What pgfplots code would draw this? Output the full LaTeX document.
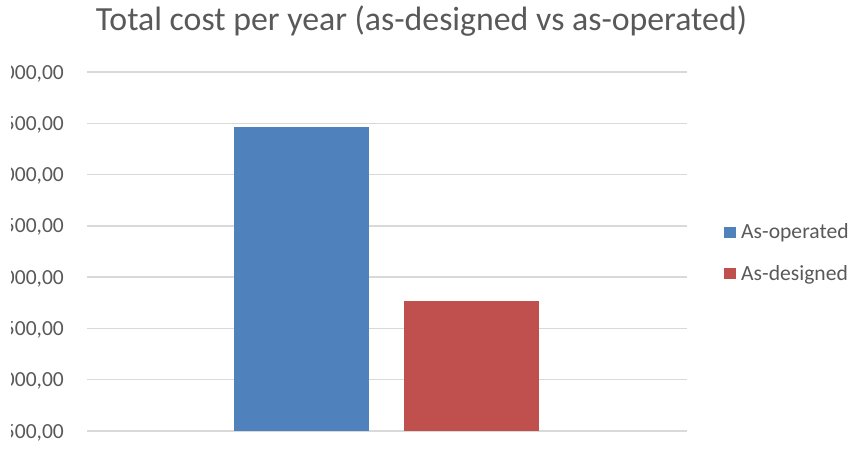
\documentclass[border=0pt]{standalone}
\usepackage{fontspec}
\setmainfont{Carlito}
\usepackage{pgfplots}
\pgfplotsset{compat=1.18}
\definecolor{blueC}{HTML}{4F81BD}
\definecolor{redC}{HTML}{C0504D}
\definecolor{gridC}{HTML}{D9D9D9}
\definecolor{txtC}{HTML}{595959}
\begin{document}
\begin{tikzpicture}
\useasboundingbox (0pt,0pt) rectangle (856pt,457pt);
\clip (11pt,0pt) rectangle (856pt,457pt);
\begin{axis}[
  at={(87pt,26pt)}, anchor=south west,
  scale only axis, width=600pt, height=359pt,
  xmin=0, xmax=600, ymin=1500, ymax=5000,
  xtick=\empty,
  ytick={1500,2000,2500,3000,3500,4000,4500,5000},
  yticklabels={{1500,00},{2000,00},{2500,00},{3000,00},{3500,00},{4000,00},{4500,00},{5000,00}},
  ymajorgrids, grid style={color=gridC, line width=1.5pt},
  axis line style={draw=none}, major tick length=0pt,
  yticklabel style={font=\fontsize{21.5}{22}\selectfont, color=txtC, anchor=east, inner sep=0pt, xshift=-23pt, yshift=-1.5pt},
  title={Total cost per year (as-designed vs as-operated)},
  title style={font=\fontsize{33.8}{35}\selectfont, color=txtC, at={(0.5575,1)}, anchor=base, yshift=35pt, inner sep=0pt},
  legend style={draw=none, fill=none, at={(1,0.5)}, anchor=west, xshift=37pt, yshift=-1.5pt,
    font=\fontsize{21.6}{22}\selectfont, text=txtC, row sep=23pt, column sep=4pt, inner sep=0pt,
    nodes={inner sep=1pt}},
  legend cell align=left,
  legend image code/.code={\path[#1] (0pt,-5.5pt) rectangle (12pt,5.5pt);},
]
\addplot[ybar, bar width=135pt, bar shift=0pt, fill=blueC, draw=none] coordinates {(214.5,4461)};
\addlegendentry{As-operated}
\addplot[ybar, bar width=135pt, bar shift=0pt, fill=redC, draw=none] coordinates {(384.5,2766)};
\addlegendentry{As-designed}
\end{axis}
\end{tikzpicture}
\end{document}
